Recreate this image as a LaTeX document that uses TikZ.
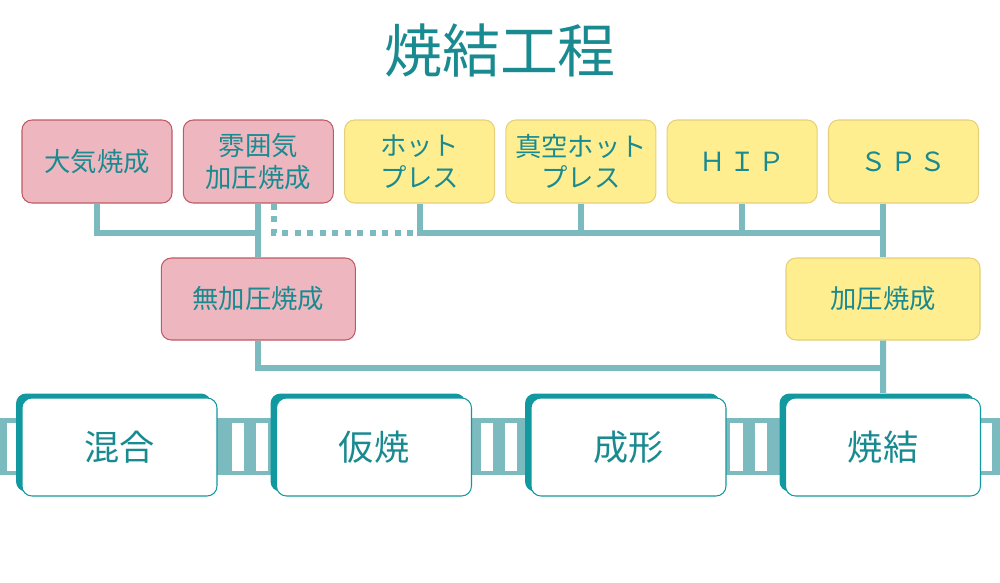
\documentclass[tikz,border=0pt]{standalone}
\usepackage{fontspec}
\setmainfont{Noto Sans CJK JP}
\usetikzlibrary{positioning,shadows}
\definecolor{tealtext}{HTML}{1A8A91}
\definecolor{linkteal}{HTML}{7BBBC0}
\definecolor{shadeteal}{HTML}{12999F}
\definecolor{pinkfill}{HTML}{EEB7BF}
\definecolor{pinkline}{HTML}{BF5A64}
\definecolor{yellowfill}{HTML}{FFEE90}
\definecolor{yellowline}{HTML}{E5CF78}

\begin{document}
\begin{tikzpicture}[node distance=3.226cm, text=tealtext]
\tikzstyle{method} = [rectangle, draw, rounded corners=0.2cm, minimum width=3cm, minimum height=1.66cm, align=center, font=\fontsize{15}{18}\selectfont, line width=0.6pt]
\tikzstyle{pinkbox} = [method, fill=pinkfill, draw=pinkline]
\tikzstyle{yellowbox} = [method, fill=yellowfill, draw=yellowline]
\tikzstyle{widebox} = [minimum width=3.88cm, minimum height=1.64cm]
\tikzstyle{process} = [rectangle, draw=shadeteal, line width=0.6pt, fill=white, rounded corners=0.2cm, minimum width=3.9cm, minimum height=1.96cm, font=\fontsize{20}{24}\selectfont, drop shadow={shadow xshift=-0.12cm, shadow yshift=0.09cm, fill=shadeteal, opacity=1}]
\tikzstyle{conn} = [draw=linkteal, line width=0.12cm]

\useasboundingbox (0,0) rectangle (20,-11.66);

\node (title) at (10,-1.02) [font=\fontsize{33}{40}\selectfont] {焼結工程};

% top row
\node (taiki) [pinkbox] at (1.94,-3.23) {大気焼成};
\node (funiki) [pinkbox, right of=taiki] {雰囲気\\加圧焼成};
\node (hot) [yellowbox, right of=funiki] {ホット\\プレス};
\node (shinku) [yellowbox, right of=hot] {真空ホット\\プレス};
\node (hip) [yellowbox, right of=shinku] {Ｈ\hspace{0.12em}Ｉ\hspace{0.12em}Ｐ};
\node (sps) [yellowbox, right of=hip] {Ｓ\hspace{0.12em}Ｐ\hspace{0.12em}Ｓ};

% middle row
\node (mukaatsu) [pinkbox, widebox, below of=funiki, node distance=2.75cm] {無加圧焼成};
\node (kaatsu) [yellowbox, widebox, below of=sps, node distance=2.75cm, xshift=-0.41cm] {加圧焼成};

% ladder band
\fill[linkteal] (0,-8.36) rectangle (20,-9.5);
\fill[white] (0.14,-8.46) rectangle (0.34,-9.42);
\fill[white] (4.64,-8.46) rectangle (4.88,-9.42);
\fill[white] (5.12,-8.46) rectangle (5.36,-9.42);
\fill[white] (9.62,-8.46) rectangle (9.86,-9.42);
\fill[white] (10.10,-8.46) rectangle (10.34,-9.42);
\fill[white] (14.60,-8.46) rectangle (14.86,-9.42);
\fill[white] (15.10,-8.46) rectangle (15.34,-9.42);
\fill[white] (19.62,-8.46) rectangle (19.84,-9.42);

% process row
\node (kongo) [process] at (2.39,-8.94) {混合};
\node (karishou) [process, right of=kongo, node distance=5.09cm] {仮焼};
\node (seikei) [process, right of=karishou, node distance=5.09cm] {成形};
\node (shoketsu) [process, right of=seikei, node distance=5.09cm] {焼結};

% connectors
\coordinate (ybus) at (10,-4.66);
\coordinate (lowbus) at (10,-7.36);
\draw [conn] (taiki.south) |- (funiki.south |- ybus);
\draw [conn] (funiki.south) -- (mukaatsu.north);
\draw [conn, dash pattern=on 0.12cm off 0.13cm] ([xshift=0.32cm]funiki.south) |- ([xshift=-0.1cm]hot.south |- ybus);
\draw [conn] (hot.south) |- (kaatsu.north |- ybus);
\draw [conn] (shinku.south) -- (shinku.south |- ybus);
\draw [conn] (hip.south) -- (hip.south |- ybus);
\draw [conn] (kaatsu.north |- sps.south) -- (kaatsu.north);
\draw [conn] (mukaatsu.south) |- (kaatsu.south |- lowbus);
\draw [conn] (kaatsu.south) -- ([yshift=0.09cm]shoketsu.north);
\end{tikzpicture}
\end{document}
